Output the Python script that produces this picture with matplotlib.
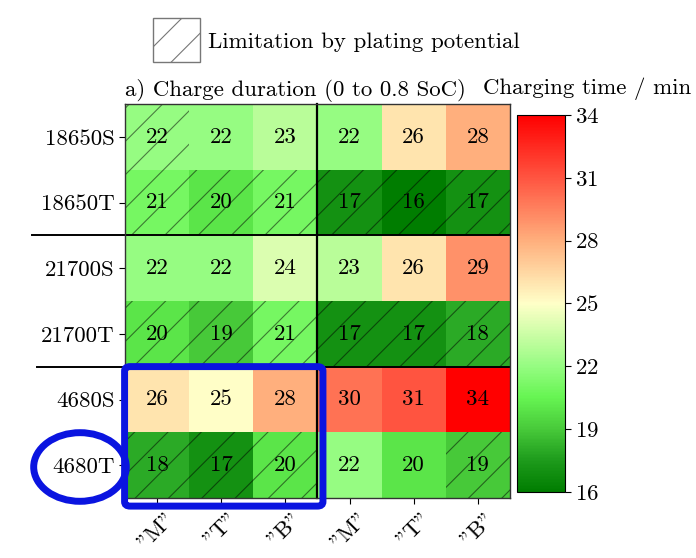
import numpy as np
import matplotlib
matplotlib.use("Agg")
import matplotlib.pyplot as plt
from matplotlib.colors import LinearSegmentedColormap
from matplotlib.patches import Rectangle, FancyBboxPatch, Ellipse

plt.rcParams['font.family'] = ['cmr10', 'DejaVu Serif']
plt.rcParams['mathtext.fontset'] = 'cm'
plt.rcParams['axes.formatter.use_mathtext'] = True
plt.rcParams['hatch.linewidth'] = 0.8

rows = ["18650S", "18650T", "21700S", "21700T", "4680S", "4680T"]
cols = ['"M"', '"T"', '"B"', '"M"', '"T"', '"B"']
values = [
    [22, 22, 23, 22, 26, 28],
    [21, 20, 21, 17, 16, 17],
    [22, 22, 24, 23, 26, 29],
    [20, 19, 21, 17, 17, 18],
    [26, 25, 28, 30, 31, 34],
    [18, 17, 20, 22, 20, 19],
]
hatched = [
    [1, 0, 0, 0, 0, 0],
    [1, 1, 1, 1, 1, 1],
    [0, 0, 0, 0, 0, 0],
    [1, 1, 1, 1, 1, 1],
    [0, 0, 0, 0, 0, 0],
    [1, 1, 1, 0, 0, 1],
]
cbar_ticks = [16, 19, 22, 25, 28, 31, 34]
vmin, vmax = 16, 34

nodes = [(16, (0/255, 125/255, 0/255)),
         (17.5, (30/255, 155/255, 28/255)),
         (19, (72/255, 202/255, 58/255)),
         (20.5, (102/255, 245/255, 82/255)),
         (22, (150/255, 252/255, 130/255)),
         (25, (255/255, 255/255, 200/255)),
         (28, (255/255, 175/255, 125/255)),
         (31, (255/255, 85/255, 65/255)),
         (34, (255/255, 0/255, 0/255))]
cmap = LinearSegmentedColormap.from_list(
    "ch", [((v - vmin) / (vmax - vmin), c) for v, c in nodes])

fig = plt.figure(figsize=(6.96, 5.58), dpi=100)
ax = fig.add_axes([0.1796, 0.1075, 0.553, 0.706])
cax = fig.add_axes([0.7428, 0.1183, 0.069, 0.6756])

data = np.array(values, dtype=float)
nr, nc = data.shape
mesh = ax.pcolormesh(np.arange(nc + 1), np.arange(nr + 1), data,
                     cmap=cmap, vmin=vmin, vmax=vmax)
ax.set_xlim(0, nc)
ax.set_ylim(nr, 0)

FS = 16.5
for i in range(nr):
    for j in range(nc):
        ax.text(j + 0.5, i + 0.5, f"{values[i][j]}", ha='center', va='center',
                fontsize=FS, color='black')
        if hatched[i][j]:
            ax.add_patch(Rectangle((j, i), 1, 1, fill=False, hatch='/',
                                   edgecolor=(0, 0, 0, 0.5), linewidth=0))

ax.set_xticks(np.arange(nc) + 0.5)
ax.set_xticklabels(cols, rotation=45, fontsize=FS)
ax.set_yticks(np.arange(nr) + 0.5)
ax.set_yticklabels(rows, fontsize=FS)
ax.tick_params(length=4, width=0.8)
for s in ax.spines.values():
    s.set_linewidth(1.0)
    s.set_color('#333333')

# group separator lines
ax.plot([3, 3], [0, nr], color='black', lw=1.6, clip_on=False)
for yb, x0 in [(2, -1.45), (4, -1.37)]:
    ax.plot([x0, nc], [yb, yb], color='black', lw=1.4, clip_on=False)

ax.set_title("a) Charge duration (0 to 0.8 SoC)", loc='left', fontsize=FS, pad=6)

cb = fig.colorbar(mesh, cax=cax, ticks=cbar_ticks)
cb.ax.tick_params(labelsize=FS, length=4, width=0.8)
cb.outline.set_linewidth(0.8)
fig.text(0.843, 0.832, "Charging time / min", ha='center', va='baseline', fontsize=FS)

# legend for hatch
fig.patches.append(Rectangle((0.2198, 0.8889), 0.0675, 0.0789, transform=fig.transFigure,
                             facecolor='white', edgecolor='#777777', hatch='/', lw=1.0))
fig.text(0.2989, 0.9247, "Limitation by plating potential", ha='left', va='center', fontsize=FS)

# blue hand annotations
fig.patches.append(FancyBboxPatch((0.1790, 0.0930), 0.285, 0.250,
                                  boxstyle="round,pad=0,rounding_size=0.008",
                                  transform=fig.transFigure, fill=False,
                                  edgecolor='#0a14e0', lw=5))
fig.patches.append(Ellipse((0.1149, 0.1631), 0.1330, 0.1230, transform=fig.transFigure,
                           fill=False, edgecolor='#0a14e0', lw=5))

fig.savefig("out.png", dpi=100)
